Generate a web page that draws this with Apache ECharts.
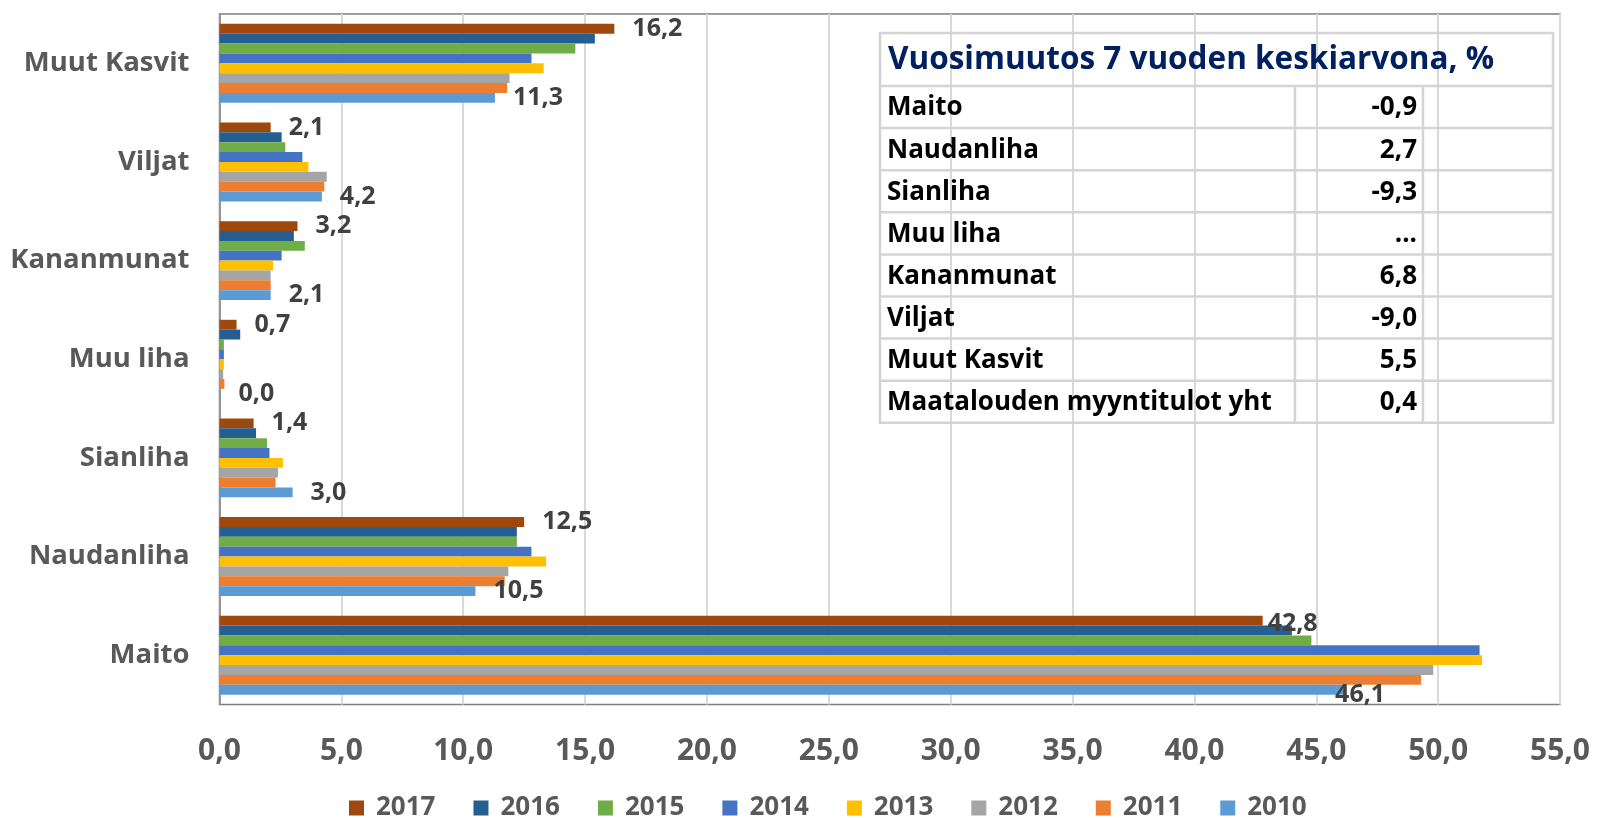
<!DOCTYPE html>
<html>
<head>
<meta charset="utf-8">
<script src="https://cdn.jsdelivr.net/npm/echarts@6/dist/echarts.min.js"></script>
<style>
  html, body { margin: 0; padding: 0; background: #fff; }
  #chart { width: 1608px; height: 818px; }
</style>
</head>
<body>
<div id="chart"></div>
<script>
  var categories = ['Maito', 'Naudanliha', 'Sianliha', 'Muu liha', 'Kananmunat', 'Viljat', 'Muut Kasvit'];
  var years = ['2017', '2016', '2015', '2014', '2013', '2012', '2011', '2010'];

  // one array per year, in category order (Maito ... Muut Kasvit)
  var v2017 = [42.8, 12.5, 1.4, 0.7, 3.2, 2.1, 16.2];
  var v2016 = [44.0, 12.2, 1.5, 0.85, 3.05, 2.55, 15.4];
  var v2015 = [44.8, 12.2, 1.95, 0.18, 3.5, 2.7, 14.6];
  var v2014 = [51.7, 12.8, 2.05, 0.18, 2.55, 3.4, 12.8];
  var v2013 = [51.8, 13.4, 2.6, 0.18, 2.2, 3.65, 13.3];
  var v2012 = [49.8, 11.85, 2.4, 0.15, 2.1, 4.4, 11.9];
  var v2011 = [49.3, 11.7, 2.3, 0.2, 2.1, 4.3, 11.8];
  var v2010 = [46.1, 10.5, 3.0, 0.04, 2.1, 4.2, 11.3];
  var yearValues = [v2017, v2016, v2015, v2014, v2013, v2012, v2011, v2010];
  var yearColors = ['#9e480e', '#255e91', '#70ad47', '#4472c4', '#ffc000', '#a5a5a5', '#ed7d31', '#5b9bd5'];
  var labelledYears = ['2010', '2017'];
  // Excel nudged the Maito labels in towards the bars
  var maitoLabelOffset = { '2017': [-13, 3], '2010': [-26, 5] };

  var xTicks = [0, 5, 10, 15, 20, 25, 30, 35, 40, 45, 50, 55];

  // side table
  var tableTitle = 'Vuosimuutos 7 vuoden keskiarvona, %';
  var tableLabels = ['Maito', 'Naudanliha', 'Sianliha', 'Muu liha', 'Kananmunat', 'Viljat', 'Muut Kasvit', 'Maatalouden myyntitulot yht'];
  var tableValues = ['-0,9', '2,7', '-9,3', '...', '6,8', '-9,0', '5,5', '0,4'];

  var font = 'Open Sans';
  function fmt(v) { return v.toFixed(1).replace('.', ','); }

  var series = years.map(function (y, i) {
    var s = {
      name: y,
      type: 'bar',
      data: yearValues[i],
      itemStyle: { color: yearColors[i] },
      barGap: '0%',
      barCategoryGap: '20%'
    };
    if (labelledYears.indexOf(y) >= 0) {
      s.data = yearValues[i].map(function (v, k) {
        return k === 0 ? { value: v, label: { offset: maitoLabelOffset[y] } } : v;
      });
      s.label = {
        show: true,
        position: 'right',
        distance: 18,
        fontFamily: font,
        fontWeight: 'bold',
        fontSize: 25,
        color: '#404040',
        formatter: function (p) { return fmt(p.value); }
      };
    }
    return s;
  });

  // table drawn as graphic elements
  var tLeft = 880, tRight = 1553, tTop = 33, titleH = 53, rowH = 42.1;
  var col1 = 1295, col2 = 1423;
  var lineColor = '#d4d4d4';
  var g = [];
  var tBottom = tTop + titleH + rowH * tableLabels.length;
  g.push({ type: 'rect', shape: { x: tLeft, y: tTop, width: tRight - tLeft, height: tBottom - tTop },
    style: { fill: 'none', stroke: lineColor, lineWidth: 2.5 }, z: 100 });
  g.push({ type: 'text', x: tLeft + 8, y: tTop + titleH / 2 + 1,
    style: { text: tableTitle, font: 'bold 31.5px "' + font + '"', fill: '#002060', textVerticalAlign: 'middle' }, z: 101 });
  for (var r = 0; r < tableLabels.length; r++) {
    var yTop = tTop + titleH + r * rowH;
    g.push({ type: 'line', shape: { x1: tLeft, y1: yTop, x2: tRight, y2: yTop },
      style: { stroke: lineColor, lineWidth: 2.5 }, z: 100 });
    g.push({ type: 'line', shape: { x1: col1, y1: yTop, x2: col1, y2: yTop + rowH },
      style: { stroke: lineColor, lineWidth: 2.5 }, z: 100 });
    g.push({ type: 'line', shape: { x1: col2, y1: yTop, x2: col2, y2: yTop + rowH },
      style: { stroke: lineColor, lineWidth: 2.5 }, z: 100 });
    g.push({ type: 'text', x: tLeft + 7, y: yTop + rowH / 2 + 1,
      style: { text: tableLabels[r], font: 'bold 26px "' + font + '"', fill: '#000', textVerticalAlign: 'middle',
        width: col1 - tLeft - 8, overflow: 'truncate', ellipsis: '' }, z: 101 });
    g.push({ type: 'text', x: col2 - 6, y: yTop + rowH / 2 + 1,
      style: { text: tableValues[r], font: 'bold 26px "' + font + '"', fill: '#000', textAlign: 'right', textVerticalAlign: 'middle' }, z: 101 });
  }

  var chart = echarts.init(document.getElementById('chart'));
  chart.setOption({
    animation: false,
    backgroundColor: '#fff',
    grid: {
      left: 219.5, right: 48, top: 14, bottom: 113.5,
      show: true, borderColor: '#7f7f7f', borderWidth: 1.5
    },
    legend: {
      data: years,
      left: 344,
      top: 790,
      itemWidth: 15,
      itemHeight: 15,
      itemGap: 38,
      icon: 'rect',
      textStyle: { fontFamily: font, fontWeight: 'bold', fontSize: 26, color: '#595959', padding: [0, 0, 0, 7] }
    },
    xAxis: {
      type: 'value',
      min: xTicks[0],
      max: xTicks[xTicks.length - 1],
      interval: 5,
      axisLine: { show: false },
      axisTick: { show: false },
      splitLine: { lineStyle: { color: '#d9d9d9', width: 2 } },
      axisLabel: {
        margin: 32,
        fontFamily: font, fontWeight: 'bold', fontSize: 30, color: '#595959',
        formatter: function (v) { return fmt(v); }
      }
    },
    yAxis: {
      type: 'category',
      data: categories,
      axisLine: { show: true, lineStyle: { color: '#7f7f7f', width: 1.5 } },
      axisTick: { show: false },
      axisLabel: {
        margin: 30,
        fontFamily: font, fontWeight: 'bold', fontSize: 27.5, color: '#595959'
      }
    },
    series: series,
    graphic: g
  });
</script>
</body>
</html>
